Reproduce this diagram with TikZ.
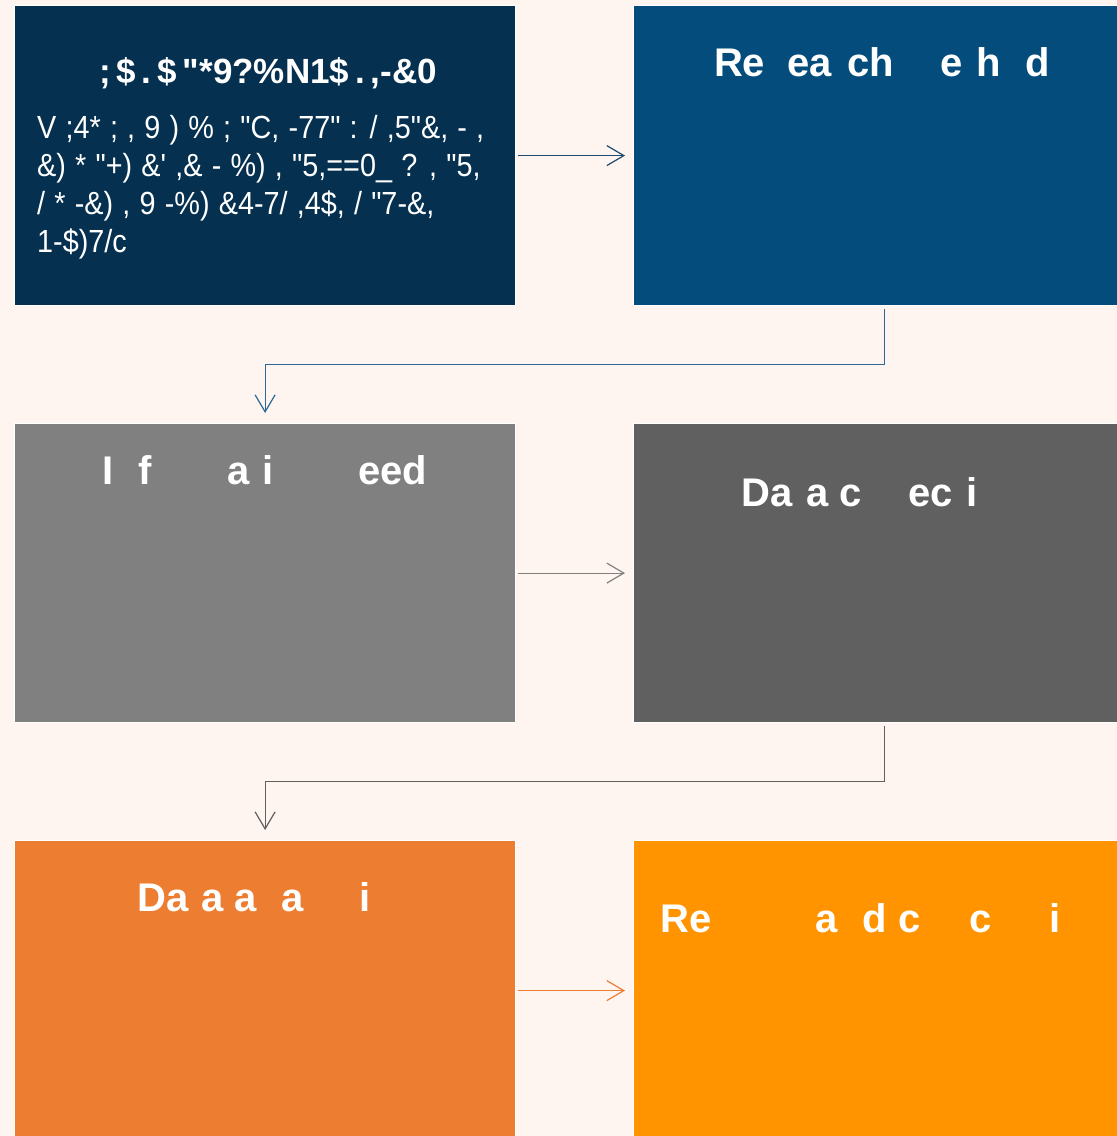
\documentclass[tikz,border=0pt]{standalone}
\usepackage{fontspec}
\setmainfont{Liberation Sans}[Ligatures=TeXOff]
\newfontfamily\bodyfont{Liberation Sans}[Ligatures=TeXOff, FakeStretch=0.9, WordSpace=1.15]
\usetikzlibrary{arrows.meta}
\definecolor{bg}{HTML}{FFF5F0}
\definecolor{cA}{HTML}{05304F}
\definecolor{cB}{HTML}{044C7C}
\definecolor{cC}{HTML}{808080}
\definecolor{cD}{HTML}{606060}
\definecolor{cE}{HTML}{ED7D31}
\definecolor{cF}{HTML}{FF9400}
\definecolor{lA}{HTML}{1D4A6E}
\definecolor{lB}{HTML}{2C6896}
\tikzset{
  box/.style={draw=white, line width=1.2pt, minimum width=501pt, minimum height=300pt, inner sep=0pt, anchor=north west},
  ttl/.style={text=white, anchor=base, inner sep=0pt, font=\fontsize{40}{48}\selectfont\bfseries},
  conn/.style={line width=1.2pt, -{Straight Barb[length=17pt,width=20pt]}},
}
\begin{document}
\begin{tikzpicture}[x=1pt,y=-1pt]
\useasboundingbox[fill=bg] (0,0) rectangle (1117,1136);
\node[box, fill=cA] (b1) at (14,5) {};
\node[box, fill=cB] (b2) at (633,5) {};
\node[box, fill=cC, minimum height=299pt] (b3) at (14,423) {};
\node[box, fill=cD, minimum height=299pt] (b4) at (633,423) {};
\node[box, fill=cE] (b5) at (14,840) {};
\node[box, fill=cF] (b6) at (633,840) {};

\node[ttl, font=\fontsize{35}{42}\selectfont\bfseries] (t1) at (268,83) {;\,\$\,.\,\$\,"*9?\%N1\$\,.\,,-\&0};
\node[text=white, anchor=base west, inner sep=0pt, align=left, font=\bodyfont\fontsize{32}{38}\selectfont] (body1) at (37,252)
  {V ;4* ; , 9 ) \% ; "C, -77" : / ,5"\&, - ,\\
   \&) * "+) \&' ,\& - \%) , "5,==0\_ ? , "5,\\
   / * -\&) , 9 -\%) \&4-7/ ,4\$, / "7-\&,\\
   1-\$)7/c};
\node[ttl] (t2) at (893,76) {Re\phantom{s}ea\phantom{r}ch \phantom{m}e\phantom{t}h\phantom{o}d\phantom{s}};
\node[ttl] (t3) at (276,484) {I\phantom{n}f\phantom{orm}a\phantom{t}i\phantom{on} \phantom{n}eed\phantom{s}};
\node[ttl] (t4) at (884,506) {Da\phantom{t}a c\phantom{oll}ec\phantom{t}i\phantom{on}};
\node[ttl] (t5) at (265,911) {Da\phantom{t}a a\phantom{n}a\phantom{lys}i\phantom{s}};
\node[ttl] (t6) at (896,932) {Re\phantom{sults} a\phantom{n}d c\phantom{on}c\phantom{lus}i\phantom{ons}};

\draw[conn, lA, shorten <=2pt, shorten >=8pt] (b1.east) -- (b2.west);
\draw[conn, lB, shorten <=3pt, shorten >=10pt] (b2.south) -- ++(0,58) -| (b3.north);
\draw[conn, cC, shorten <=2pt, shorten >=8pt] (b3.east) -- (b4.west);
\draw[conn, cD, shorten <=3pt, shorten >=10pt] (b4.south) -- ++(0,58) -| (b5.north);
\draw[conn, cE, shorten <=2pt, shorten >=8pt] (b5.east) -- (b6.west);
\end{tikzpicture}
\end{document}
